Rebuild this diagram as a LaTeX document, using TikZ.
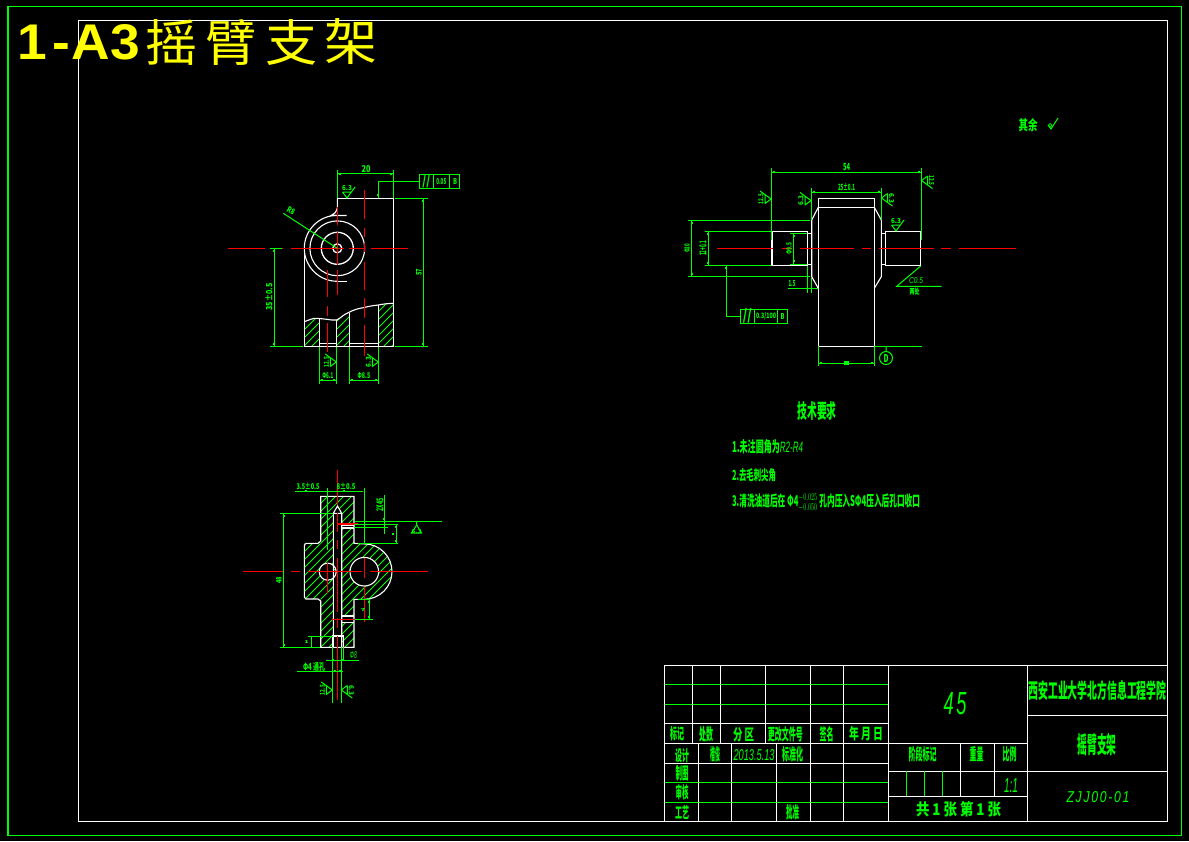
\documentclass[tikz,border=0pt]{standalone}
\usepackage{graphicx}
\usepackage{fontspec}
\setmainfont{Noto Sans CJK SC}
\newfontfamily\latf{Liberation Sans}
\newfontfamily\latw[LetterSpace=14]{Liberation Sans}
\definecolor{cadgreen}{RGB}{0,255,0}
\definecolor{cadred}{RGB}{255,0,0}
\definecolor{cadyellow}{RGB}{255,255,0}
\tikzset{
  obj/.style={draw=white,line width=1.1pt},
  dim/.style={draw=cadgreen,line width=1pt},
  ctr/.style={draw=cadred,line width=1.1pt},
  hatchln/.style={draw=cadgreen,line width=.9pt},
  frm/.style={draw=white,line width=1.1pt},
  lbl/.style={text=cadgreen,inner sep=0pt,outer sep=0pt,font=\bfseries},
  ylw/.style={text=cadyellow,inner sep=0pt,outer sep=0pt,anchor=west},
}
\newcommand{\fit}[3]{\resizebox{#1pt}{#2pt}{#3}}
\newcommand{\txt}[5]{\node[lbl] at (#1,#2) {\fit{#3}{#4}{#5}};}
\newcommand{\rtxt}[5]{\node[lbl,rotate=90] at (#1,#2) {\fit{#3}{#4}{#5}};}
\newcommand{\rough}[4]{%
  \begin{scope}[shift={(#1,#2)},rotate=#3]
    \draw[dim] (-4.5,-6) -- (0,0) -- (8,-11) (-4.5,-6) -- (4.5,-6);
    \node[lbl,transform shape] at (0,-10) {\fit{10}{5}{#4}};
  \end{scope}}
\newcommand{\tick}[2]{\fill[cadgreen] (#1-1,#2-1) rectangle (#1+1,#2+1);}
% diagonal hatch: lines x+y=const, const from #1 to #3
\newcommand{\hatchrun}[3]{%
  \foreach \k in {#1,#2,...,#3} {\draw[hatchln] (\k,0) -- (\k-900,900);}}
\begin{document}
\begin{tikzpicture}[x=1pt,y=-1pt]
\useasboundingbox (0,0) rectangle (1189,841);
\fill[black] (0,0) rectangle (1189,841);
% frames
\draw[draw=cadgreen,line width=1.1pt] (8,6.5) rectangle (1181.7,835.3);
\draw[frm] (78.5,20.3) rectangle (1167.7,821.3);
% title
\node[ylw] at (17,42.5) {\fit{123}{35}{\latf\bfseries 1\kern.12em-\kern.02emA3}};
\node[ylw] at (145,42) {\fit{52}{42}{摇}};
\node[ylw] at (205,42) {\fit{51}{42}{臂}};
\node[ylw] at (265,42) {\fit{52}{42}{支}};
\node[ylw] at (324,42) {\fit{53}{42}{架}};
% ---------- view 1 (front) ----------
\begin{scope}
 \clip (304.3,321.7) .. controls (309,320) and (313,318) .. (316.7,318.3)
   .. controls (320,318.5) and (324,319) .. (326.7,319.3)
   .. controls (330,319.6) and (333,320.5) .. (336.7,320)
   .. controls (341,318) and (344,314) .. (348.3,312.7)
   .. controls (353,310) and (358,308.5) .. (363.3,307.7)
   .. controls (368,306.5) and (373,305.5) .. (378.3,305)
   .. controls (383,304) and (388,303.5) .. (393.3,303.3)
   -- (393.3,346.3) -- (304.3,346.3) -- cycle;
 \clip (304.3,300) rectangle (319.3,350) (336.3,300) rectangle (349.3,350) (378.3,300) rectangle (393.3,350);
 \hatchrun{610}{618}{770}
\end{scope}
\draw[obj] (337.3,198.3) -- (393.3,198.3) -- (393.3,346.3) -- (304.3,346.3) -- (304.3,248.3);
\draw[obj] (337.3,198.3) -- (337.3,208) .. controls (336.5,212) and (334,214.5) .. (331,215.5) -- (346.7,215.5);
\draw[obj] (337.3,215.3) arc[start angle=270,end angle=90,radius=33];
\draw[obj] (337.3,281.3) -- (347,281.3);
\draw[obj] (337.3,248.3) circle[radius=27.4];
\draw[obj,line width=1.3pt] (337.3,248.3) circle[radius=16];
\draw[obj,line width=1.3pt] (337.3,248.3) circle[radius=4.5];
\draw[obj] (304.3,321.7) .. controls (309,320) and (313,318) .. (316.7,318.3)
   .. controls (320,318.5) and (324,319) .. (326.7,319.3)
   .. controls (330,319.6) and (333,320.5) .. (336.7,320)
   .. controls (341,318) and (344,314) .. (348.3,312.7)
   .. controls (353,310) and (358,308.5) .. (363.3,307.7)
   .. controls (368,306.5) and (373,305.5) .. (378.3,305)
   .. controls (383,304) and (388,303.5) .. (393.3,303.3);
\draw[obj] (319.3,318.5) -- (319.3,346.3) (336.3,320) -- (336.3,346.3)
           (349.3,312.5) -- (349.3,346.3) (378.3,305) -- (378.3,346.3)
           (319.3,343.3) -- (336.3,343.3) (349.3,343.3) -- (378.3,343.3);
\draw[ctr] (228.3,248.3) -- (265,248.3) (270,248.3) -- (282.7,248.3) (291,248.3) -- (344,248.3)
           (349,248.3) -- (365,248.3) (371,248.3) -- (407.7,248.3);
\draw[ctr] (337.3,207) -- (337.3,225) (337.3,232) -- (337.3,265) (337.3,270) -- (337.3,295);
\draw[ctr] (327.3,270) -- (327.3,297) (327.3,306) -- (327.3,316) (327.3,323) -- (327.3,352);
\draw[ctr] (364.3,190) -- (364.3,219) (364.3,228) -- (364.3,237) (364.3,243) -- (364.3,252)
           (364.3,262) -- (364.3,290) (364.3,298) -- (364.3,318) (364.3,325) -- (364.3,356);
% dims
\draw[dim] (337.3,170) -- (337.3,198) (393.3,170) -- (393.3,198) (337.3,173.7) -- (393.3,173.7);
\tick{340}{173.7}\tick{391}{173.7}
\txt{366}{169}{9}{7}{20}
\rough{347}{198}{0}{6.3}
\draw[dim] (378.3,198) -- (378.3,181.7) -- (419.3,181.7);
\tick{378.3}{195}
\draw[dim] (419.3,174.3) rectangle (459.7,188.7) (433.3,174.3) -- (433.3,188.7) (449.3,174.3) -- (449.3,188.7);
\txt{426.3}{181.5}{8}{11}{//}
\txt{441.3}{181.5}{10}{6}{0.05}
\txt{455}{181.5}{4}{6}{B}
\draw[dim] (395,198.3) -- (428,198.3) (395,346.3) -- (428,346.3) (423.3,198.3) -- (423.3,346.3);
\tick{423.3}{200.5}\tick{423.3}{344}
\rtxt{419}{272}{7}{5.5}{57}
\draw[dim] (270,248.3) -- (282,248.3) (270,346.3) -- (303,346.3) (274,248.3) -- (274,346.3);
\tick{274}{344}\tick{274}{251}
\rtxt{269}{297}{27}{7}{35±0.5}
\draw[dim] (283.3,213.3) -- (337.3,248.3);
\node[lbl,rotate=-28] at (291,211) {\fit{8}{6}{R8}};
\draw[dim] (319.3,347) -- (319.3,384) (336.3,347) -- (336.3,384) (349.3,347) -- (349.3,384) (378.3,347) -- (378.3,384);
\draw[dim] (319.3,380.3) -- (336.3,380.3) (349.3,380.3) -- (378.3,380.3);
\tick{321.5}{380.3}\tick{334}{380.3}\tick{351.5}{380.3}\tick{376}{380.3}
\txt{327.8}{375.5}{11}{6}{Φ6.1}
\txt{363.8}{375.5}{13}{6}{Φ8.5}
\rough{336.3}{362}{90}{12.5}
\rough{378.3}{362}{90}{6.3}
% ---------- view 2 (side) ----------
\draw[obj] (818.3,198.3) rectangle (874.3,346.3) (818.3,207.3) -- (874.3,207.3);
\draw[obj] (818.3,207.3) -- (811.7,220) -- (811.7,276.7) -- (818.3,288.3);
\draw[obj] (874.3,207.3) -- (881.3,220) -- (881.3,276.7) -- (874.3,288.3);
\draw[obj] (772,231.3) rectangle (807.7,265.3);
\draw[obj] (885.3,231.3) rectangle (920.7,265.3);
\draw[obj] (807.7,233.3) -- (811.7,233.3) (807.7,264.3) -- (811.7,264.3)
           (881.3,233.3) -- (885.3,233.3) (881.3,264.3) -- (885.3,264.3);
\draw[ctr] (717,248.3) -- (773.3,248.3) (782,248.3) -- (791.7,248.3) (800,248.3) -- (853.7,248.3)
           (862,248.3) -- (871.3,248.3) (879,248.3) -- (933.7,248.3) (941,248.3) -- (951,248.3)
           (959,248.3) -- (1015.7,248.3);
\draw[dim] (771.3,168) -- (771.3,240) (921.3,168) -- (921.3,240) (771.3,172.3) -- (921.3,172.3);
\tick{774}{172.3}\tick{919}{172.3}
\txt{846.7}{167}{7}{7}{54}
\draw[dim] (811.3,188) -- (811.3,220) (881.3,188) -- (881.3,220) (811.3,192.3) -- (881.3,192.3);
\tick{814}{192.3}\tick{878.5}{192.3}
\txt{846.5}{187.5}{17}{7}{25±0.1}
\rough{771}{199}{90}{12.5}
\rough{811}{200.5}{90}{6.3}
\rough{881.5}{198}{-90}{6.3}
\rough{921.5}{180.5}{-90}{12.5}
\rough{896}{231}{0}{6.3}
\draw[dim] (688,220.3) -- (810,220.3) (688,276.3) -- (810,276.3) (691.7,220.3) -- (691.7,276.3);
\tick{691.7}{223}\tick{691.7}{274}
\rtxt{687}{248.3}{9}{5.5}{Φ20}
\draw[dim] (705,231.3) -- (771,231.3) (705,265.3) -- (771,265.3) (708.3,231.3) -- (708.3,265.3);
\tick{708.3}{234}\tick{708.3}{263}
\rtxt{703}{248.3}{15}{7}{12+0.1}
\draw[dim] (790,233.3) -- (807,233.3) (790,264.3) -- (807,264.3) (793.7,233.3) -- (793.7,264.3);
\tick{793.7}{236}\tick{793.7}{261}
\rtxt{789}{248.3}{12}{5.5}{Φ9.5}
\draw[dim] (726.3,265.3) -- (726.3,316.3) -- (740.3,316.3);
\tick{726.3}{268}
\draw[dim] (740.3,309) rectangle (787.7,323.7) (754.3,309) -- (754.3,323.7) (777.7,309) -- (777.7,323.7);
\txt{747.3}{316.3}{9}{12}{//}
\txt{766}{316.3}{20}{6}{0.3/100}
\txt{782.7}{316.3}{4}{6}{B}
\draw[dim] (807.3,266) -- (807.3,293) (811.3,278) -- (811.3,293) (788,288.3) -- (818,288.3);
\txt{792}{284}{7}{6}{1.5}
\draw[dim] (920.7,266) -- (896.7,286.3) -- (941.7,286.3);
\txt{916}{281}{14}{6}{\latf\mdseries\itshape C0.5}
\txt{914.5}{292}{10}{6.5}{两处}
\draw[dim] (874.3,346.3) -- (922,346.3);
\draw[dim] (818.3,346.3) -- (818.3,366) (874.3,346.3) -- (874.3,366) (818.3,363) -- (874.3,363);
\fill[cadgreen] (844,360.5) rectangle (849,364.5);
\tick{821}{363}\tick{872}{363}
\draw[dim] (886,346.3) -- (886,351.5) (886,358) circle[radius=6.5];
\txt{886}{358}{5}{8}{D}
% ---------- view 3 (section) ----------
\begin{scope}[even odd rule]
 \clip (320.7,496.3) -- (354,496.3) -- (354,543.3) -- (364.3,543.9)
   arc[start angle=-90,end angle=90,radius=27.7] -- (354,599) -- (354,647.3) -- (320.7,647.3)
   -- (320.7,599) -- (304.3,599) -- (304.3,543.3) -- (320.7,543.3) -- cycle
   (333.3,513.3) -- (333.3,647.3) -- (341.7,647.3) -- (341.7,513.3) -- (337.5,506) -- cycle
   (364.3,571.7) circle[radius=14.3] (327.7,571.7) circle[radius=8.5];
 \hatchrun{800}{808}{1050}
\end{scope}
\fill[black] (341.7,525.5) rectangle (354,528) (341.7,616) rectangle (354,622.7);
\draw[obj] (320.7,496.3) -- (354,496.3) -- (354,543.3) -- (364.3,543.9)
   arc[start angle=-90,end angle=90,radius=27.7] -- (354,599.3) -- (354,647.3) -- (320.7,647.3)
   -- (320.7,601) -- (318,599) -- (306,599) -- (304.3,597) -- (304.3,545.3) -- (306,543.3) -- (318,543.3) -- (320.7,541) -- cycle;
\draw[obj] (364.3,571.7) circle[radius=14.3] (327.7,571.7) circle[radius=8.5];
\draw[obj] (333.3,647.3) -- (333.3,513.3) -- (337.5,506) -- (341.7,513.3) -- (341.7,647.3) (333.3,513.3) -- (341.7,513.3);
\draw[obj] (341.7,525.5) -- (354,525.5) (341.7,528) -- (354,528) (341.7,616) -- (354,616) (341.7,622.7) -- (354,622.7);
\draw[obj] (332.7,647.3) -- (332.7,636) -- (343.3,636) -- (343.3,647.3);
\draw[ctr] (337.3,470) -- (337.3,505) (337.3,513) -- (337.3,532) (337.3,540) -- (337.3,549)
           (337.3,558) -- (337.3,612) (337.3,618) -- (337.3,628) (337.3,636) -- (337.3,700);
\draw[ctr] (243,571.7) -- (283,571.7) (291,571.7) -- (300,571.7) (308,571.7) -- (362,571.7) (370,571.7) -- (428,571.7);
\draw[ctr] (364.3,558) -- (364.3,578) (364.3,587) -- (364.3,622);
\draw[ctr] (327.7,563) -- (327.7,593);
\draw[ctr] (337,524) -- (358.3,524) (332,619.3) -- (355,619.3);
\draw[dim] (295,491.3) -- (363.3,491.3) (364.3,488) -- (364.3,543) (327.7,488) -- (327.7,550);
\tick{306}{491}\tick{344}{491}
\txt{308}{486.5}{23}{6.5}{3.5±0.5}
\txt{346}{486.5}{19}{6.5}{8±0.5}
\draw[dim] (280,513.3) -- (333,513.3) (280,647.3) -- (320,647.3) (283.7,513.3) -- (283.7,647.3);
\tick{283.7}{516}\tick{283.7}{645}
\rtxt{279}{580}{7}{5.5}{48}
\draw[dim] (384.3,495) -- (384.3,534);
\tick{384.3}{519}
\rtxt{380}{505}{13}{7}{2X45}
\draw[dim] (355,521.3) -- (441.7,521.3);
\draw[dim] (411.5,533) -- (416.7,525) -- (421.5,533) -- cycle (416.7,525) -- (416.7,521.3);
\txt{416.7}{531.5}{10}{4}{6.3}
\draw[dim] (354,524.3) -- (397.7,524.3) (354,527.7) -- (388,527.7) (358,543.3) -- (397.7,543.3) (396.3,524.3) -- (396.3,543.3);
\tick{396.3}{527}\tick{396.3}{541}
\tick{393}{534}
\draw[dim] (358,599.3) -- (370,599.3) (355,619.3) -- (373,619.3) (369,599.3) -- (369,619.3);
\tick{369}{602}\tick{369}{617}
\txt{363}{609.5}{5}{3}{7}
\draw[dim] (308,636) -- (333,636) (311.3,636) -- (311.3,647);
\txt{306.5}{641.5}{4}{3}{1}
\draw[dim] (326,660.3) -- (359,660.3) (297,671.3) -- (343.3,671.3);
\txt{353.3}{655}{7}{7}{\latf\mdseries\itshape Φ8}
\txt{314}{667}{22}{8}{Φ4 通孔}
\tick{332.5}{660.3}\tick{343}{660.3}\tick{334.5}{671.3}\tick{340}{671.3}
\draw[dim] (332.3,647) -- (332.3,703) (341.3,647) -- (341.3,703) (343.3,647) -- (343.3,660);
\rough{332.3}{690}{90}{12.5}
\rough{341.3}{690}{-90}{6.3}
% ---------- technical notes ----------
\txt{817}{411}{39}{17}{技术要求}
\node[lbl,anchor=west] at (732,447) {\fit{71}{13}{1.未注圆角为{\latf\mdseries\itshape R2-R4}}};
\node[lbl,anchor=west] at (732,475) {\fit{44}{12}{2.去毛刺尖角}};
\node[lbl,anchor=west] at (732,503) {\fit{188}{13}{3.清洗油道后在 Φ4$^{-0.025}_{-0.050}$ 孔内压入SΦ4压入后孔口收口}};
\txt{1028}{125}{19}{12}{其余}
\draw[dim] (1048,125) -- (1051,129) -- (1058,118);
\draw[dim,line width=.7pt] (1050.2,125.3) circle[radius=1.8];
% ---------- title block ----------
\draw[dim] (664.3,684.3) -- (888.3,684.3) (664.3,704.3) -- (888.3,704.3)
           (664.3,782.3) -- (888.3,782.3) (664.3,802.3) -- (888.3,802.3);
\draw[frm] (664.3,665.3) -- (1167.7,665.3) (664.3,665.3) -- (664.3,821.3);
\foreach \xx in {692.3,720.3,765.3,810.3,843.3} {\draw[frm] (\xx,665.3) -- (\xx,743.3);}
\draw[frm] (888.3,665.3) -- (888.3,821.3) (1027.3,665.3) -- (1027.3,821.3);
\draw[frm] (664.3,723.3) -- (888.3,723.3) (664.3,743.3) -- (1027.3,743.3) (664.3,763.3) -- (888.3,763.3);
\foreach \xx in {698.3,731.3,776.3,810.3,843.3} {\draw[frm] (\xx,743.3) -- (\xx,821.3);}
\draw[frm] (1027.3,715.3) -- (1167.7,715.3) (888.3,771.3) -- (1167.7,771.3) (888.3,796.3) -- (1027.3,796.3);
\draw[frm] (960.3,743.3) -- (960.3,796.3) (994.3,743.3) -- (994.3,796.3);
\draw[dim] (906.3,771.3) -- (906.3,796.3) (924.3,771.3) -- (924.3,796.3) (942.3,771.3) -- (942.3,796.3);
\txt{677}{733.5}{14}{13}{标记}
\txt{706}{734}{14}{14}{处数}
\txt{743.5}{734.5}{21}{13}{分 区}
\txt{785.3}{734}{35}{14}{更改文件号}
\txt{826.7}{734}{14}{14}{签名}
\txt{866}{734}{34}{13}{年 月 日}
\txt{682}{755.5}{14}{13}{设计}
\txt{715}{754.5}{10}{14}{楷俊}
\txt{754}{755}{41}{11}{\latf\mdseries\itshape 2013.5.13}
\txt{792.7}{754.5}{21}{14}{标准化}
\txt{682}{773}{13}{14}{制图}
\txt{682}{792.5}{13}{14}{审核}
\txt{682}{812.5}{14}{13}{工艺}
\txt{792.7}{812}{13}{14}{批准}
\txt{922.5}{754.5}{28}{14}{阶段标记}
\txt{976.5}{754.5}{14}{14}{重量}
\txt{1009.5}{754.5}{14}{14}{比例}
\txt{1011}{785.5}{14}{14}{\latf\mdseries\itshape 1:1}
\txt{958.5}{809}{85}{14}{共 1 张 第 1 张}
\txt{955}{704}{23}{22}{\latf\mdseries\itshape 4\kern.15em 5}
\txt{1097.5}{691}{138}{18}{西安工业大学北方信息工程学院}
\txt{1097}{745}{39}{20}{摇臂支架}
\txt{1098}{797.5}{63}{11}{\latw\mdseries\itshape ZJJ00-01}
\end{tikzpicture}
\end{document}
